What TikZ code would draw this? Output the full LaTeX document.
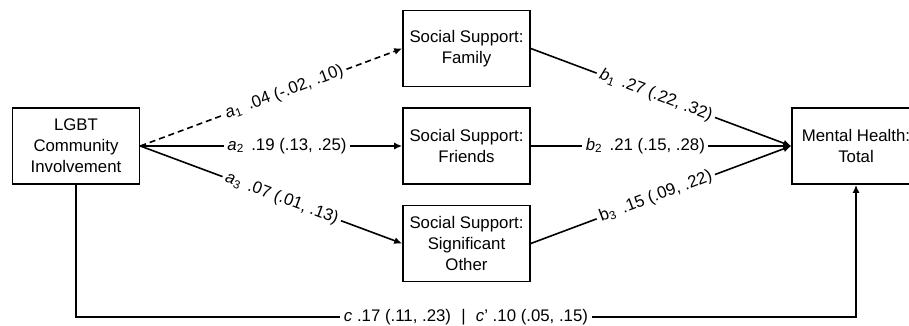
\documentclass[tikz,border=0pt]{standalone}
\usepackage{fontspec}
\setmainfont{Liberation Sans}
\usetikzlibrary{arrows.meta}
\begin{document}
\begin{tikzpicture}[x=1pt,y=-1pt,
  every node/.style={font=\fontsize{16.8}{20.8}\selectfont},
  box/.style={draw, line width=1.6pt, minimum width=127pt, minimum height=76pt, align=center, inner sep=2pt},
  conn/.style={line width=1.6pt},
  arr/.style={conn, -{Latex[length=8pt,width=7pt]}},
  dashedarr/.style={arr, dash pattern=on 6pt off 4pt},
  lab/.style={fill=white, inner sep=3.5pt, sloped}]
\useasboundingbox (0,0) rectangle (909,326);
\clip (0,0) rectangle (909,326);
\node[box] (lgbt) at (76,146) {LGBT\\Community\\Involvement};
\node[box] (fam) at (466.5,48.5) {Social Support:\\Family};
\node[box] (fri) at (466.5,146) {Social Support:\\Friends};
\node[box] (so) at (466.5,243.5) {Social Support:\\Significant\\Other};
\node[box, minimum width=128pt] (mh) at (856,146) {Mental Health:\\Total};
\coordinate (bl) at (lgbt.south |- 0,317);
\coordinate (br) at (mh.south |- 0,317);
\draw[dashedarr] (lgbt.east) -- node[lab, pos=0.55] {\textit{a}\textsubscript{1}\, .04 (-.02, .10)} (fam.west);
\draw[arr] (lgbt.east) -- node[lab, pos=0.56] {\textit{a}\textsubscript{2}\, .19 (.13, .25)} (fri.west);
\draw[arr] (lgbt.east) -- node[lab, pos=0.54] {\textit{a}\textsubscript{3}\, .07 (.01, .13)} (so.west);
\draw[arr] (fam.east) -- node[lab, pos=0.48] {\textit{b}\textsubscript{1}\, .27 (.22, .32)} (mh.west);
\draw[arr] (fri.east) -- node[lab, pos=0.44] {\textit{b}\textsubscript{2}\, .21 (.15, .28)} (mh.west);
\draw[arr] (so.east) -- node[lab, pos=0.48] {b\textsubscript{3}\, .15 (.09, .22)} (mh.west);
\draw[arr] (lgbt.south) -- (bl) -- node[fill=white, inner sep=3.5pt] {\textit{c} .17 (.11, .23) \,\,|\,\, \textit{c}' .10 (.05, .15)} (br) -- (mh.south);
\end{tikzpicture}
\end{document}
